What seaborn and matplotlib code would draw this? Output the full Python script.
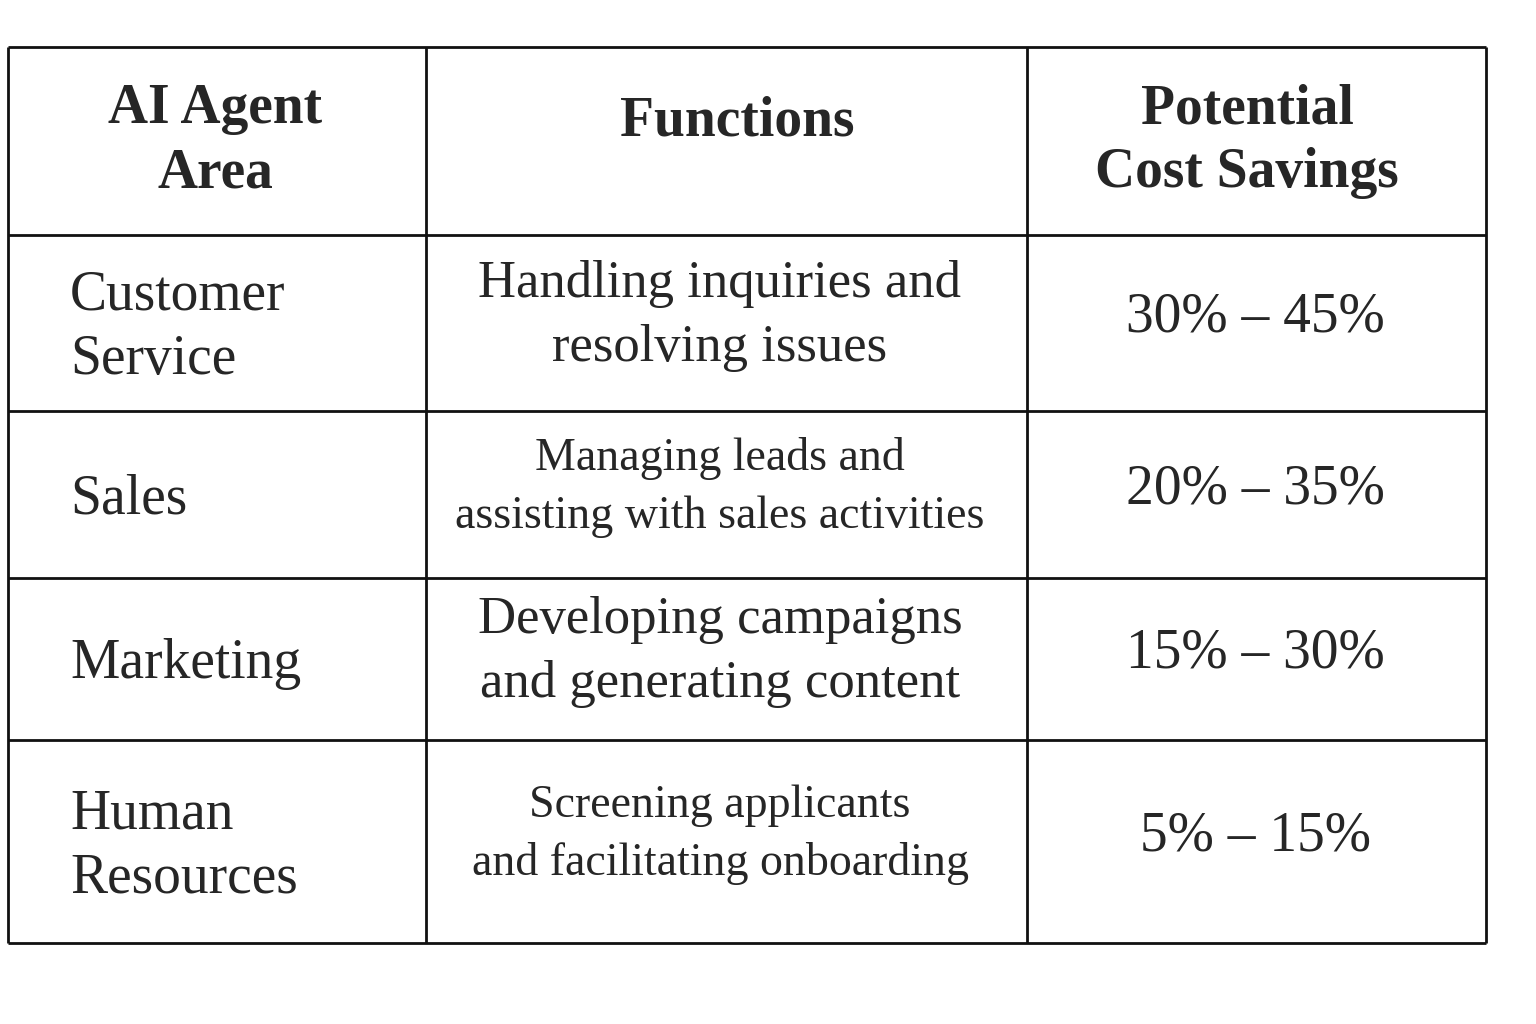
import matplotlib.pyplot as plt
import seaborn as sns

headers = ["AI Agent\nArea", "Functions", "Potential\nCost Savings"]
areas = ["Customer\nService", "Sales", "Marketing", "Human\nResources"]
functions = ["Handling inquiries and\nresolving issues",
             "Managing leads and\nassisting with sales activities",
             "Developing campaigns\nand generating content",
             "Screening applicants\nand facilitating onboarding"]
savings = ["30% – 45%", "20% – 35%", "15% – 30%", "5% – 15%"]

sns.set_theme(style="white")
plt.rcParams["font.family"] = "Liberation Serif"

col_x = [8, 426, 1027, 1486]
row_y = [47, 235, 411, 578, 740, 943]

fig = plt.figure(figsize=(15.36, 10.24), dpi=100)
ax = fig.add_axes([0, 0, 1, 1])
ax.set_xlim(0, 1536)
ax.set_ylim(1024, 0)
ax.axis("off")

ax.hlines(row_y, col_x[0], col_x[-1], color="#111", lw=2)
ax.vlines(col_x, row_y[0], row_y[-1], color="#111", lw=2)

fs = 40
hy = (row_y[0] + row_y[1]) / 2
ax.text(215, hy, headers[0], ha="center", va="center", fontsize=fs, weight="bold", linespacing=1.3)
ax.text(737, hy - 20, headers[1], ha="center", va="center", fontsize=fs, weight="bold")
ax.text(1247, hy, headers[2], ha="center", va="center", fontsize=fs, weight="bold", linespacing=1.3)

for i in range(len(areas)):
    cy = (row_y[i + 1] + row_y[i + 2]) / 2
    ax.text(70, cy + 5, areas[i], ha="left", va="center", fontsize=fs, linespacing=1.3)
    ffs = 33 if len(functions[i]) > 45 else 38
    ax.text(720, cy - 7, functions[i], ha="center", va="center", fontsize=ffs, linespacing=1.45)
    ax.text(1255, cy - 5, savings[i], ha="center", va="center", fontsize=fs)

fig.savefig("out.png", dpi=100, facecolor="white")
